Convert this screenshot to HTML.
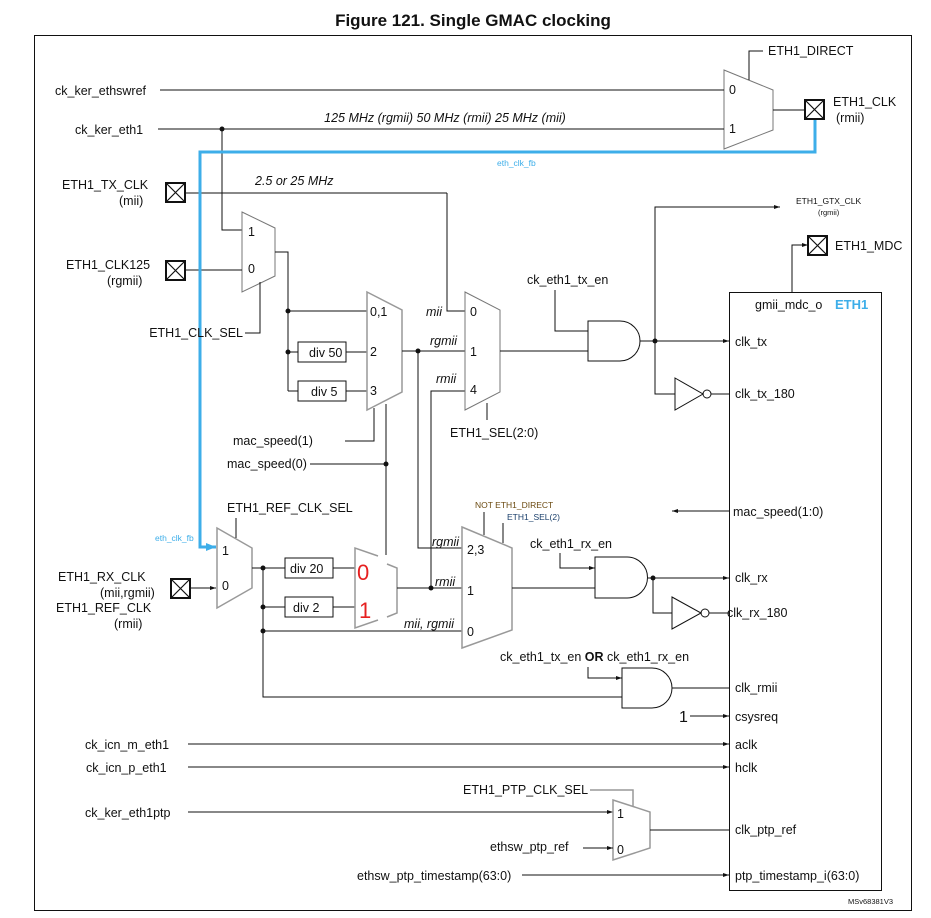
<!DOCTYPE html>
<html><head><meta charset="utf-8"><style>
html,body{margin:0;padding:0;background:#fff}
svg{display:block}
text{font-family:"Liberation Sans","DejaVu Sans",sans-serif;font-size:12.5px;fill:#111}
.i{font-style:italic}
.s{font-size:8.5px}
</style></head><body>
<svg width="931" height="918" viewBox="0 0 931 918" xmlns="http://www.w3.org/2000/svg">
<defs>
<marker id="a" markerWidth="6" markerHeight="6" refX="6" refY="3" orient="auto" markerUnits="userSpaceOnUse"><path d="M0,1 L6,3 L0,5 z" fill="#111"/></marker>
<marker id="ab" markerWidth="10" markerHeight="8" refX="10" refY="4" orient="auto" markerUnits="userSpaceOnUse"><path d="M0,0 L10,4 L0,8 z" fill="#3daee9"/></marker>
</defs>
<text x="473" y="26" text-anchor="middle" style="font-weight:bold;font-size:17px">Figure 121. Single GMAC clocking</text>
<rect x="34.5" y="35.5" width="877" height="875" fill="none" stroke="#111" stroke-width="1"/>
<rect x="729.5" y="292.5" width="152" height="598" fill="none" stroke="#111" stroke-width="1"/>

<g fill="none" stroke="#111" stroke-width="1">
<polygon points="724,70 773,90 773,130 724,149" stroke="#777"/>
<polyline points="749,80 749,51 763,51"/>
<line x1="160" y1="90" x2="724" y2="90"/>
<line x1="158" y1="129" x2="724" y2="129"/>
<line x1="773" y1="110" x2="804" y2="110"/>
<polyline points="222,129 222,230 242,230"/>
<polygon points="242,212 275,228 275,276 242,292" stroke="#777"/>
<line x1="185" y1="193" x2="447" y2="193"/>
<polyline points="447,193 447,311 465,311"/>
<line x1="185" y1="270" x2="242" y2="270"/>
<polyline points="245,333 260,333 260,282"/>
<polyline points="275,252 288,252 288,391"/>
<line x1="288" y1="311" x2="367" y2="311"/>
<line x1="288" y1="352" x2="298" y2="352"/>
<line x1="346" y1="352" x2="367" y2="352"/>
<line x1="288" y1="391" x2="298" y2="391"/>
<line x1="346" y1="391" x2="367" y2="391"/>
<rect x="298" y="342" width="48" height="20"/>
<rect x="298" y="381" width="48" height="20"/>
<polygon points="367,292 402,310 402,392 367,410" stroke="#999" stroke-width="1.5"/>
<line x1="402" y1="351" x2="465" y2="351"/>
<polyline points="345,441 374,441 374,408"/>
<line x1="310" y1="464" x2="386" y2="464"/>
<line x1="386" y1="404" x2="386" y2="555"/>
<polyline points="418,351 418,548 462,548"/>
<polyline points="465,391 431,391 431,588"/>
<polygon points="465,292 500,310 500,392 465,410" stroke="#777"/>
<line x1="487" y1="403" x2="487" y2="420"/>
<line x1="500" y1="351" x2="588" y2="351"/>
<polyline points="555,290 555,331 588,331"/>
<path d="M588,321 L620,321 A20,20 0 0 1 620,361 L588,361 Z"/>
<line x1="640" y1="341" x2="729" y2="341" marker-end="url(#a)"/>
<polyline points="655,341 655,207 780,207" marker-end="url(#a)"/>
<polyline points="655,341 655,394 675,394"/>
<polygon points="675,378 703,394 675,410"/>
<circle cx="707" cy="394" r="4"/>
<line x1="711" y1="394" x2="729" y2="394"/>
<polyline points="792,292 792,245 808,245" marker-end="url(#a)"/>
<line x1="729" y1="511" x2="672" y2="511" marker-end="url(#a)"/>
<polygon points="217,528 252,548 252,588 217,608" stroke="#999" stroke-width="1.5"/>
<line x1="236" y1="518" x2="236" y2="538"/>
<line x1="190" y1="588" x2="216" y2="588" marker-end="url(#a)"/>
<polyline points="252,568 263,568 263,697 622,697"/>
<line x1="263" y1="568" x2="285" y2="568"/>
<line x1="333" y1="568" x2="355" y2="568"/>
<line x1="263" y1="607" x2="285" y2="607"/>
<line x1="333" y1="607" x2="355" y2="607"/>
<line x1="263" y1="631" x2="462" y2="631"/>
<rect x="285" y="558" width="48" height="20"/>
<rect x="285" y="597" width="48" height="20"/>
<path d="M378,556 L355,548 L355,628 L378,620 M387,617 L397,613 L397,568 L387,564" stroke="#999" stroke-width="1.5"/>
<line x1="397" y1="588" x2="462" y2="588"/>
<polygon points="462,527 512,548 512,630 462,648" stroke="#999" stroke-width="1.5"/>
<line x1="484" y1="512" x2="484" y2="535"/>
<line x1="503" y1="523" x2="503" y2="543"/>
<line x1="512" y1="588" x2="595" y2="588"/>
<polyline points="560,553 560,568 595,568" marker-end="url(#a)"/>
<path d="M595,557 L627,557 A20.5,20.5 0 0 1 627,598 L595,598 Z"/>
<line x1="648" y1="578" x2="729" y2="578" marker-end="url(#a)"/>
<polyline points="653,578 653,613 672,613"/>
<polygon points="672,597 701,613 672,629"/>
<circle cx="705" cy="613" r="4"/>
<line x1="709" y1="613" x2="729" y2="613"/>
<polyline points="588,667 588,678 622,678" marker-end="url(#a)"/>
<path d="M622,668 L652,668 A20,20 0 0 1 652,708 L622,708 Z"/>
<line x1="672" y1="688" x2="729" y2="688"/>
<line x1="690" y1="716" x2="729" y2="716" marker-end="url(#a)"/>
<line x1="188" y1="744" x2="729" y2="744" marker-end="url(#a)"/>
<line x1="188" y1="767" x2="729" y2="767" marker-end="url(#a)"/>
<line x1="188" y1="812" x2="613" y2="812" marker-end="url(#a)"/>
<polygon points="613,800 650,812 650,848 613,860" stroke="#999" stroke-width="1.5"/>
<polyline points="590,790 633,790 633,806" stroke="#999" stroke-width="1.5"/>
<line x1="583" y1="848" x2="613" y2="848" marker-end="url(#a)"/>
<line x1="650" y1="830" x2="729" y2="830"/>
<line x1="522" y1="875" x2="729" y2="875" marker-end="url(#a)"/>
</g>
<g fill="none" stroke="#111" stroke-width="2">
<rect x="805" y="100" width="19" height="19"/><path d="M805,100 L824,119 M824,100 L805,119" stroke-width="1.2"/>
<rect x="166" y="183" width="19" height="19"/><path d="M166,183 L185,202 M185,183 L166,202" stroke-width="1.2"/>
<rect x="166" y="261" width="19" height="19"/><path d="M166,261 L185,280 M185,261 L166,280" stroke-width="1.2"/>
<rect x="808" y="236" width="19" height="19"/><path d="M808,236 L827,255 M827,236 L808,255" stroke-width="1.2"/>
<rect x="171" y="579" width="19" height="19"/><path d="M171,579 L190,598 M190,579 L171,598" stroke-width="1.2"/>
</g>
<polyline points="815,120 815,152 200,152 200,547 216,547" fill="none" stroke="#3daee9" stroke-width="3" marker-end="url(#ab)"/>
<g fill="#111">
<circle cx="222" cy="129" r="2.5"/><circle cx="288" cy="311" r="2.5"/><circle cx="288" cy="352" r="2.5"/>
<circle cx="418" cy="351" r="2.5"/><circle cx="386" cy="464" r="2.5"/><circle cx="655" cy="341" r="2.5"/>
<circle cx="263" cy="568" r="2.5"/><circle cx="263" cy="607" r="2.5"/><circle cx="263" cy="631" r="2.5"/>
<circle cx="431" cy="588" r="2.5"/><circle cx="653" cy="578" r="2.5"/>
</g>
<text x="768" y="55">ETH1_DIRECT</text>
<text x="55" y="95">ck_ker_ethswref</text>
<text x="75" y="134">ck_ker_eth1</text>
<text x="445" y="122" class="i" text-anchor="middle">125 MHz (rgmii) 50 MHz (rmii) 25 MHz (mii)</text>
<text x="729" y="94">0</text><text x="729" y="133">1</text>
<text x="833" y="106">ETH1_CLK</text><text x="836" y="122">(rmii)</text>
<text x="497" y="166" class="s" style="fill:#3daee9">eth_clk_fb</text>
<text x="62" y="189">ETH1_TX_CLK</text><text x="119" y="205">(mii)</text>
<text x="255" y="185" class="i">2.5 or 25 MHz</text>
<text x="66" y="269">ETH1_CLK125</text><text x="107" y="285">(rgmii)</text>
<text x="248" y="236">1</text><text x="248" y="273">0</text>
<text x="243" y="337" text-anchor="end">ETH1_CLK_SEL</text>
<text x="370" y="316">0,1</text><text x="370" y="356">2</text><text x="370" y="395">3</text>
<text x="309" y="357">div 50</text><text x="311" y="396">div 5</text>
<text x="426" y="316" class="i">mii</text><text x="430" y="345" class="i">rgmii</text><text x="436" y="383" class="i">rmii</text>
<text x="470" y="316">0</text><text x="470" y="356">1</text><text x="470" y="394">4</text>
<text x="450" y="437">ETH1_SEL(2:0)</text>
<text x="233" y="445">mac_speed(1)</text><text x="227" y="468">mac_speed(0)</text>
<text x="527" y="284">ck_eth1_tx_en</text>
<text x="796" y="204" class="s">ETH1_GTX_CLK</text><text x="818" y="215" class="s" style="font-size:7.5px">(rgmii)</text>
<text x="835" y="250">ETH1_MDC</text>
<text x="755" y="309">gmii_mdc_o</text>
<text x="835" y="309" style="fill:#3daee9;font-weight:bold;font-size:13px">ETH1</text>
<text x="735" y="346">clk_tx</text><text x="735" y="398">clk_tx_180</text>
<text x="733" y="516">mac_speed(1:0)</text>
<text x="475" y="508" class="s" style="fill:#6b4a10">NOT ETH1_DIRECT</text>
<text x="507" y="520" class="s" style="fill:#1a3f6b">ETH1_SEL(2)</text>
<text x="227" y="512">ETH1_REF_CLK_SEL</text>
<text x="155" y="541" class="s" style="fill:#3daee9">eth_clk_fb</text>
<text x="222" y="555">1</text><text x="222" y="590">0</text>
<text x="58" y="581">ETH1_RX_CLK</text><text x="100" y="597">(mii,rgmii)</text>
<text x="56" y="612">ETH1_REF_CLK</text><text x="114" y="628">(rmii)</text>
<text x="290" y="573">div 20</text><text x="293" y="612">div 2</text>
<text x="357" y="580" style="fill:#e62020;font-size:22px">0</text>
<text x="359" y="618" style="fill:#e62020;font-size:22px">1</text>
<text x="432" y="546" class="i">rgmii</text><text x="435" y="586" class="i">rmii</text><text x="404" y="628" class="i">mii, rgmii</text>
<text x="467" y="554">2,3</text><text x="467" y="595">1</text><text x="467" y="636">0</text>
<text x="530" y="548">ck_eth1_rx_en</text>
<text x="735" y="582">clk_rx</text><text x="727" y="617">clk_rx_180</text>
<text x="500" y="661">ck_eth1_tx_en <tspan style="font-weight:bold">OR</tspan> ck_eth1_rx_en</text>
<text x="735" y="692">clk_rmii</text>
<text x="679" y="722" style="font-size:16px">1</text><text x="735" y="721">csysreq</text>
<text x="85" y="749">ck_icn_m_eth1</text><text x="735" y="749">aclk</text>
<text x="86" y="772">ck_icn_p_eth1</text><text x="735" y="772">hclk</text>
<text x="85" y="817">ck_ker_eth1ptp</text>
<text x="463" y="794">ETH1_PTP_CLK_SEL</text>
<text x="617" y="818">1</text><text x="617" y="854">0</text>
<text x="490" y="851">ethsw_ptp_ref</text>
<text x="735" y="834">clk_ptp_ref</text>
<text x="357" y="880">ethsw_ptp_timestamp(63:0)</text>
<text x="735" y="880">ptp_timestamp_i(63:0)</text>
<text x="848" y="904" style="font-size:7.5px">MSv68381V3</text>
</svg>
</body></html>
